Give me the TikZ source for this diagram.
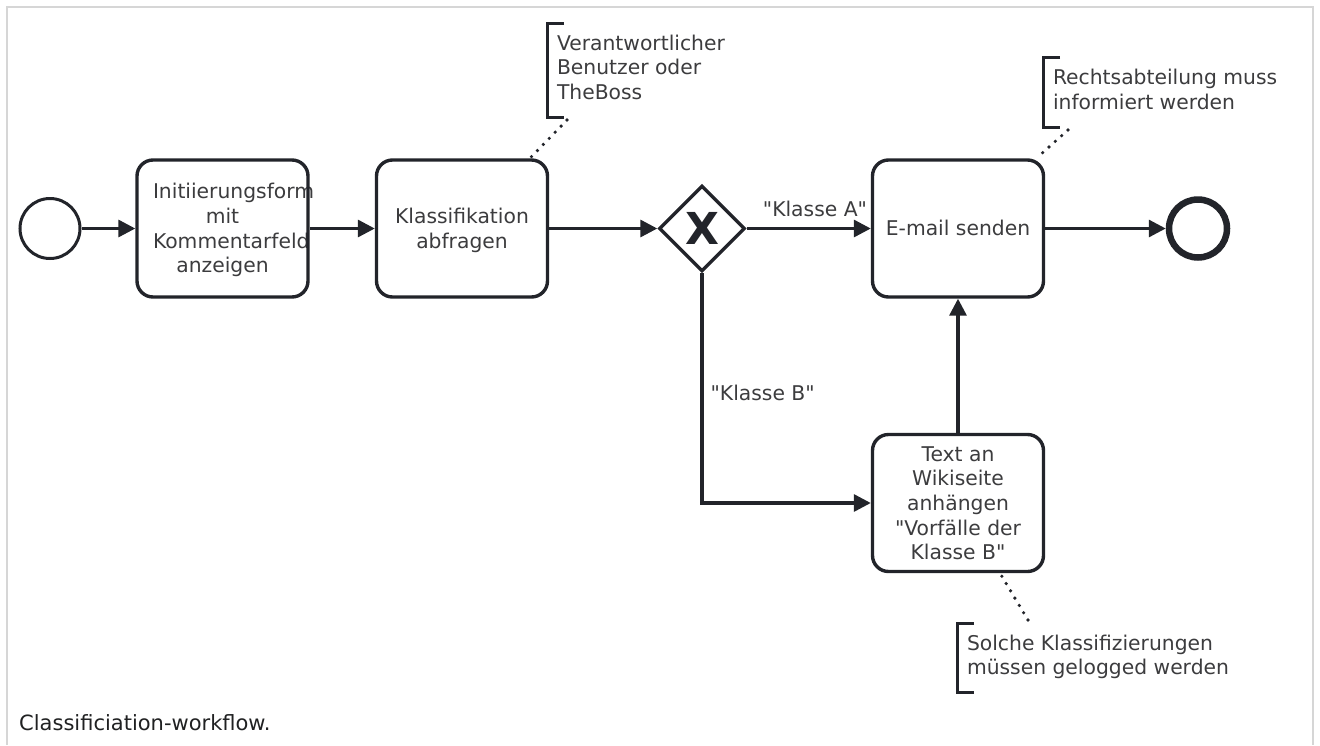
\documentclass[tikz,border=0pt]{standalone}
\usepackage{fontspec}
\setmainfont{DejaVu Sans}[Ligatures=TeXOff]
\usetikzlibrary{shapes.geometric,arrows.meta}
\definecolor{ink}{RGB}{34,36,42}
\definecolor{txt}{RGB}{60,60,62}
\definecolor{captxt}{RGB}{32,33,34}
\definecolor{framec}{RGB}{214,214,214}
\begin{document}
\begin{tikzpicture}[x=1pt,y=-1pt,
  dfont/.style={font=\fontsize{20.3}{24.7}\selectfont, text=txt},
  taskbox/.style={draw=ink, line width=3.4pt, rounded corners=16pt, minimum width=171pt, minimum height=137pt, inner sep=0pt},
  tasktext/.style={dfont, align=center, inner sep=0pt, yshift=-2.5pt},
  startev/.style={circle, draw=ink, line width=3pt, minimum size=60pt, inner sep=0pt},
  endev/.style={circle, draw=ink, line width=6.5pt, minimum size=58pt, inner sep=0pt},
  gateway/.style={diamond, draw=ink, line width=3.4pt, minimum width=86pt, minimum height=86pt, inner sep=0pt, text=ink, font=\fontsize{44}{44}\selectfont\bfseries},
  flow/.style={draw=ink, line width=3.2pt, -{Triangle[length=17pt,width=17pt]}},
  assoc/.style={draw=ink, line width=3.6pt, line cap=round, dash pattern=on 0pt off 8.5pt},
  annot/.style={dfont, align=left, inner xsep=10pt, inner ysep=0pt, outer sep=0pt, anchor=north west},
  bracket/.style={draw=ink, line width=3pt},
  flowlabel/.style={dfont, inner sep=0pt},
]
\useasboundingbox (0,0) rectangle (1320,745);
\draw[framec, line width=2pt] (7,745) -- (7,7) -- (1313,7) -- (1313,745);

% events and gateway
\node[startev] (start) at (50,228.5) {};
\node[gateway] (gw) at (702,228.5) {X};
\node[endev] (end) at (1198,228.5) {};

% task texts (drawn first, boxes on top)
\node[tasktext] (t1text) at (222.5,228.5) {\strut\makebox[139pt][l]{Initiierungsform}\\mit\\\makebox[139pt][l]{Kommentarfeld}\\anzeigen\strut};
\node[tasktext] (t2text) at (462,228.5) {\strut Klassifikation\\abfragen\strut};
\node[tasktext] (t3text) at (958,228.5) {\strut E-mail senden};
\node[tasktext] (t4text) at (958,503) {\strut Text an\\Wikiseite\\anhängen\\"Vorfälle der\\Klasse B"\strut};

\node[taskbox] (t1) at (222.5,228.5) {};
\node[taskbox] (t2) at (462,228.5) {};
\node[taskbox] (t3) at (958,228.5) {};
\node[taskbox] (t4) at (958,503) {};

% annotations
\node[annot, minimum height=94pt] (a1) at (547,23) {\strut Verantwortlicher\\\strut Benutzer oder\\\strut TheBoss};
\node[annot, minimum height=70pt] (a2) at (1043,57) {\strut Rechtsabteilung muss\\\strut informiert werden};
\node[annot, minimum height=69pt] (a3) at (957,623) {\strut Solche Klassifizierungen\\\strut müssen gelogged werden};
\foreach \a in {a1,a2,a3}{
  \draw[bracket] ([xshift=17pt]\a.north west) -- (\a.north west) -- (\a.south west) -- ([xshift=17pt]\a.south west);
}

% sequence flows
\draw[flow] (start) -- (t1);
\draw[flow] (t1) -- (t2);
\draw[flow] (t2) -- (gw);
\draw[flow] (gw) -- node[flowlabel, pos=0.55, yshift=20pt] {"Klasse A"} (t3);
\draw[flow] (gw.south) |- node[flowlabel, pos=0.26, anchor=west, xshift=7pt] {"Klasse B"} (t4.west);
\draw[flow] (t4) -- (t3);
\draw[flow] (t3) -- (end);

% associations
\draw[assoc] ([shift={(20,3)}]a1.south west) -- (t2);
\draw[assoc] ([shift={(25,3)}]a2.south west) -- (t3);
\draw[assoc] ([shift={(71,-3)}]a3.north west) -- (t4);

% caption
\node[font=\fontsize{21}{25}\selectfont, text=captxt, anchor=west, inner sep=0pt] (cap) at (19,723) {Classificiation-workflow.};
\end{tikzpicture}
\end{document}
